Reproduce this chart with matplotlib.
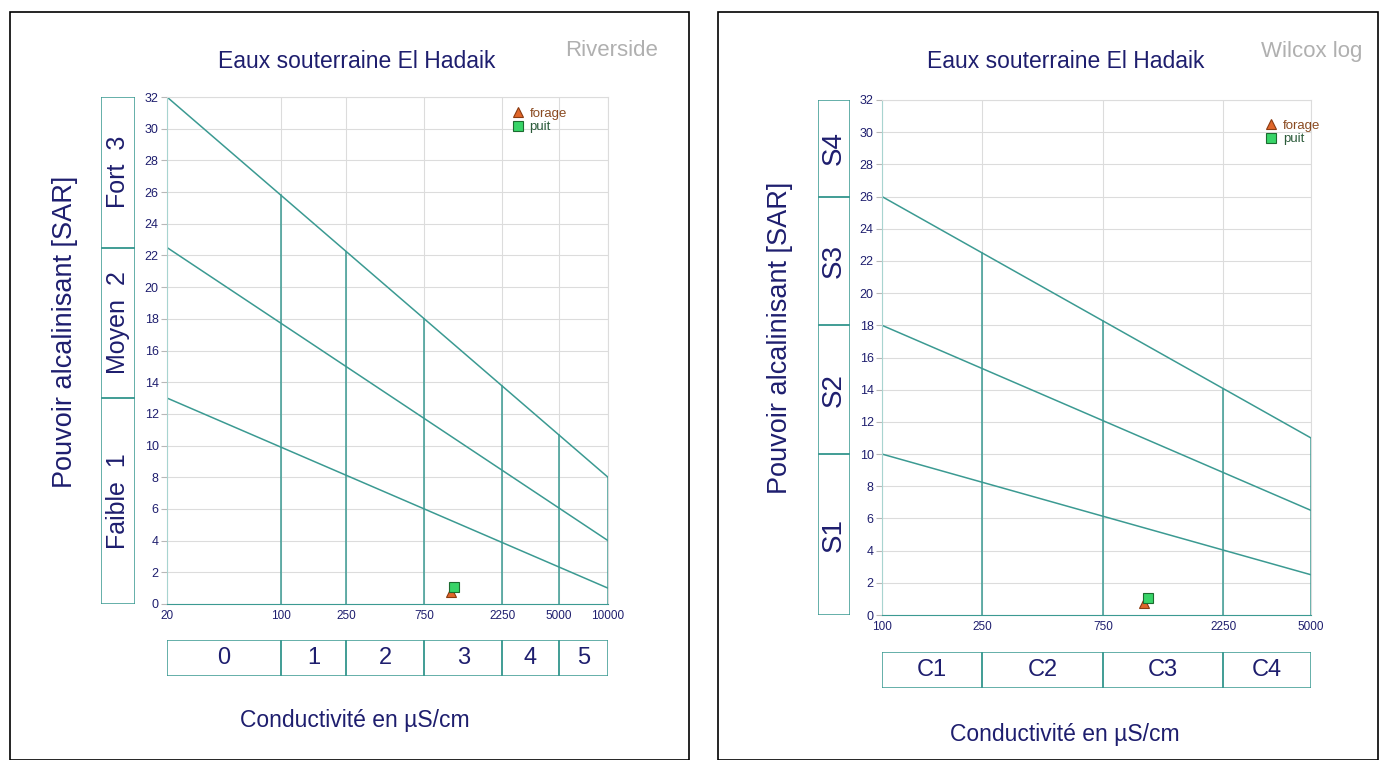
import numpy as np
import matplotlib
matplotlib.use("Agg")
import matplotlib.pyplot as plt
from matplotlib.patches import Rectangle

plt.rcParams['font.family'] = ['Liberation Sans', 'DejaVu Sans']

TEAL = '#3b9a92'
NAVY = '#1e1e6e'
GRID = '#dcdcdc'

# --- Riverside diagram data ---
rv_xlim = (20, 10000)
rv_bounds = [20, 100, 250, 750, 2250, 5000, 10000]
rv_classes = ["0", "1", "2", "3", "4", "5"]
rv_xticks = [20, 100, 250, 750, 2250, 5000, 10000]
rv_lines = [(32, 8), (22.5, 4), (13, 1)]          # SAR at x=20 and x=10000
rv_sar_bounds = [0, 13, 22.5, 32]
rv_sar_classes = ["Faible  1", "Moyen  2", "Fort  3"]

# --- Wilcox log diagram data ---
wl_xlim = (100, 5000)
wl_bounds = [100, 250, 750, 2250, 5000]
wl_classes = ["C1", "C2", "C3", "C4"]
wl_xticks = [100, 250, 750, 2250, 5000]
wl_lines = [(26, 11), (18, 6.5), (10, 2.5)]        # SAR at x=100 and x=5000
wl_sar_bounds = [0, 10, 18, 26, 32]
wl_sar_classes = ["S1", "S2", "S3", "S4"]

# samples (conductivity, SAR)
forage = (1090, 0.75)
puit = (1135, 1.05)

fig = plt.figure(figsize=(13.84, 7.6), dpi=100)

def px(x0, y0, x1, y1):
    # pixel box -> figure fraction
    return [x0 / 1384, (760 - y1) / 760, (x1 - x0) / 1384, (y1 - y0) / 760]


def draw_panel(frame, ax_box, side_box, bot_box, xlim, xticks, bounds, classes,
               lines, sar_bounds, sar_classes, label, title_xy, label_xy,
               ylab_xy, xlab_xy, leg_xy, side_fs):
    fig.patches.append(Rectangle((frame[0] / 1384, 0), (frame[1] - frame[0]) / 1384,
                                 (760 - frame[2]) / 760, transform=fig.transFigure,
                                 fill=False, ec='black', lw=1.2))

    ax = fig.add_axes(px(*ax_box))
    ax.set_xscale('log')
    ax.set_xlim(*xlim)
    ax.set_ylim(0, 32)
    ax.set_yticks(range(0, 33, 2))
    ax.set_xticks(xticks)
    ax.set_xticklabels([str(t) for t in xticks])
    ax.minorticks_off()
    ax.tick_params(axis='x', length=0, pad=4, labelsize=8.5, labelcolor=NAVY)
    ax.tick_params(axis='y', length=4, color='#b8b8b8', pad=2, labelsize=9, labelcolor=NAVY)
    ax.grid(True, color=GRID, lw=0.8)
    for s in ['top', 'right']:
        ax.spines[s].set_color(GRID)
    ax.spines['bottom'].set_color(TEAL)
    ax.spines['left'].set_color('#a8d4d0')

    x0, x1 = xlim
    for ya, yb in lines:
        ax.plot([x0, x1], [ya, yb], color=TEAL, lw=1.1)
    # vertical class lines up to the top line
    ya, yb = lines[0]
    for b in bounds:
        t = (np.log10(b) - np.log10(x0)) / (np.log10(x1) - np.log10(x0))
        ax.plot([b, b], [0, ya + (yb - ya) * t], color=TEAL, lw=1.1)

    ax.plot(*forage, marker='^', ms=7.5, mfc='#e0662a', mec='#8a3a10', mew=0.8, ls='none',
            label='forage', zorder=5)
    ax.plot(*puit, marker='s', ms=7, mfc='#38d468', mec='#1c6b30', mew=0.8, ls='none',
            label='puit', zorder=6)
    leg = ax.legend(loc='upper left', bbox_to_anchor=leg_xy, frameon=False, fontsize=9.5,
                    handletextpad=0.4, labelspacing=0.1, handlelength=1.0, borderpad=0)
    leg.get_texts()[0].set_color('#8a4a20')
    leg.get_texts()[1].set_color('#2b5b3a')

    # side SAR class boxes
    sax = fig.add_axes(px(*side_box))
    sax.set_ylim(0, 32)
    sax.set_xlim(0, 1)
    sax.axis('off')
    for lo, hi, name in zip(sar_bounds[:-1], sar_bounds[1:], sar_classes):
        sax.add_patch(Rectangle((0, lo), 1, hi - lo, fill=False, ec=TEAL, lw=1.1))
        sax.text(0.5, (lo + hi) / 2, name, rotation=90, ha='center', va='center',
                 fontsize=side_fs, color=NAVY)

    # bottom conductivity class boxes
    bax = fig.add_axes(px(*bot_box))
    bax.set_xscale('log')
    bax.set_xlim(*xlim)
    bax.set_ylim(0, 1)
    bax.axis('off')
    for lo, hi, name in zip(bounds[:-1], bounds[1:], classes):
        bax.add_patch(Rectangle((lo, 0), hi - lo, 1, fill=False, ec=TEAL, lw=1.1))
        bax.text(np.sqrt(lo * hi), 0.5, name, ha='center', va='center',
                 fontsize=17, color=NAVY)

    fig.text(title_xy[0] / 1384, 1 - title_xy[1] / 760, "Eaux souterraine El Hadaik",
             ha='center', va='center', fontsize=16.5, color=NAVY)
    fig.text(label_xy[0] / 1384, 1 - label_xy[1] / 760, label,
             ha='right', va='center', fontsize=16, color='#b0b0b0')
    fig.text(ylab_xy[0] / 1384, 1 - ylab_xy[1] / 760, "Pouvoir alcalinisant [SAR]",
             rotation=90, ha='center', va='center', fontsize=19.5, color=NAVY)
    fig.text(xlab_xy[0] / 1384, 1 - xlab_xy[1] / 760, "Conductivité en µS/cm",
             ha='center', va='center', fontsize=16.5, color=NAVY)


draw_panel((10, 689, 12), (167, 97, 608, 604), (101, 97, 135, 604), (167, 640, 608, 676),
           rv_xlim, rv_xticks, rv_bounds, rv_classes, rv_lines, rv_sar_bounds,
           rv_sar_classes, "Riverside", (357, 62), (658, 50), (65, 332), (355, 720),
           (0.765, 0.992), 18)

draw_panel((718, 1378, 12), (882, 100, 1311, 615), (818, 100, 850, 615), (882, 652, 1311, 688),
           wl_xlim, wl_xticks, wl_bounds, wl_classes, wl_lines, wl_sar_bounds,
           wl_sar_classes, "Wilcox log", (1066, 62), (1362, 52), (780, 338), (1065, 735),
           (0.877, 0.975), 20)

fig.savefig("out.png", dpi=100)
